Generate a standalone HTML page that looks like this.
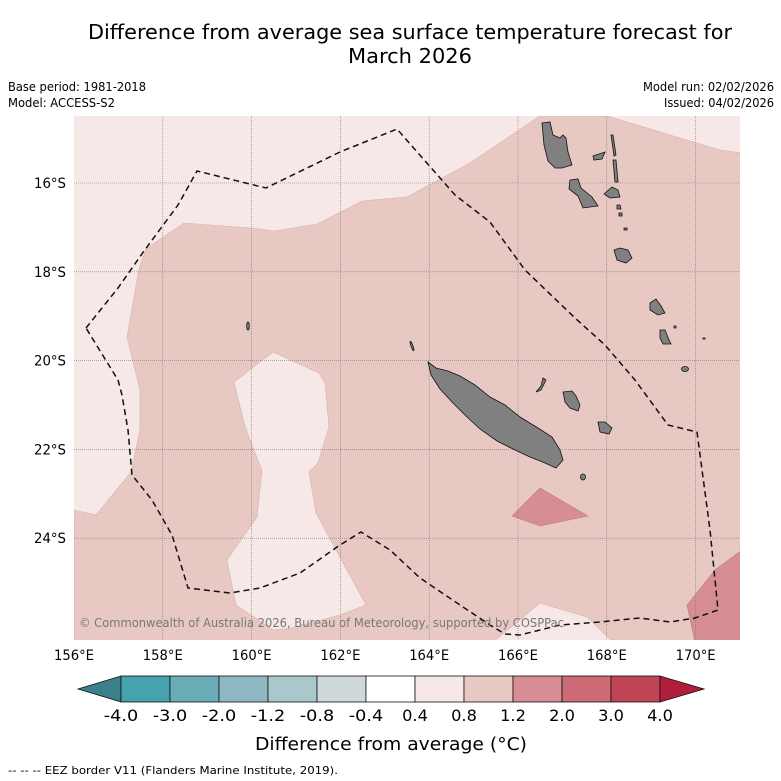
<!DOCTYPE html>
<html><head><meta charset="utf-8"><style>
html,body{margin:0;padding:0;background:#fff;width:781px;height:781px;overflow:hidden}
svg text{font-family:"DejaVu Sans","Liberation Sans",sans-serif}
</style></head><body>
<svg id="fig" width="781" height="781" viewBox="0 0 781 781" xmlns="http://www.w3.org/2000/svg">
<text x="410" y="39" font-size="20" text-anchor="middle" textLength="644" lengthAdjust="spacingAndGlyphs">Difference from average sea surface temperature forecast for</text>
<text x="410" y="63" font-size="20" text-anchor="middle" textLength="124" lengthAdjust="spacingAndGlyphs">March 2026</text>
<text x="8" y="91" font-size="12" textLength="138" lengthAdjust="spacingAndGlyphs">Base period: 1981-2018</text>
<text x="8" y="107" font-size="12" textLength="107" lengthAdjust="spacingAndGlyphs">Model: ACCESS-S2</text>
<text x="774" y="91" font-size="12" text-anchor="end" textLength="131" lengthAdjust="spacingAndGlyphs">Model run: 02/02/2026</text>
<text x="774" y="107" font-size="12" text-anchor="end" textLength="110" lengthAdjust="spacingAndGlyphs">Issued: 04/02/2026</text>
<defs><clipPath id="mapclip"><rect x="74" y="116" width="666" height="524"/></clipPath></defs>
<g id="map" clip-path="url(#mapclip)">
<rect x="74" y="116" width="666" height="524" fill="#f5e8e6"/>
<polygon fill="#e8c8c3" stroke="#dcb0ad" stroke-width="0.6" points="540,116 607,116 720,150 742,153 742,642 74,642 74,510 96,515 131,472 140,430 140,390 127,337 139,269 146,249 184,223 251,228 274,231 317,224 362,201 407,197 470,163"/>
<polygon fill="#f5e8e6" stroke="#dcb0ad" stroke-width="0.6" points="234,382 273,352 319,373 325,383 329,427 318,463 309,472 316,513 366,605 340,615 291,628 273,630 236,605 227,560 257,517 262,470 251,443 244,423"/>
<polygon fill="#f5e8e6" stroke="#dcb0ad" stroke-width="0.6" points="493,642 540,603 587,617 613,642"/>
<polygon fill="#d68d94" stroke="#c77a82" stroke-width="0.6" points="512,516 540,488 588,516 540,526"/>
<polygon fill="#d68d94" stroke="#c77a82" stroke-width="0.6" points="687,605 715,570 742,550 742,642 695,642"/>
<g id="grid"></g>
<g fill="#808080" stroke="#111" stroke-width="0.8">
<polygon points="428,362 436,368 448,371 460,376 475,385 490,397 505,405 520,417 538,428 552,437 560,450 563,460 556,468 545,463 530,457 515,450 497,441 480,429 466,416 452,402 440,389 431,375"/>
<polygon points="542,123 550,122 553,135 560,138 563,135 566,138 568,152 572,165 562,168 555,168 548,161 544,145"/>
<polygon points="570,180 578,179 581,188 592,197 598,206 583,208 578,196 569,189"/>
<polygon points="611,135 613,135 616,155 614,156"/>
<polygon points="593,156 605,152 602,159 594,160"/>
<polygon points="613,160 616,160 618,182 615,182"/>
<polygon points="604,194 612,187 618,190 620,197 610,198"/>
<polygon points="614,250 620,248 628,250 632,258 626,263 617,260"/>
<polygon points="650,303 656,299 661,306 665,313 658,315 650,310"/>
<polygon points="660,330 665,330 669,340 671,344 663,344 660,338"/>
<ellipse cx="685" cy="369" rx="3.5" ry="2.5"/>
<polygon points="563,392 572,391 576,396 580,405 578,411 570,408 565,402"/>
<polygon points="598,422 605,422 612,428 609,434 600,432"/>
<polygon points="543,378 546,380 541,390 536,392 541,386"/>
<ellipse cx="583" cy="477" rx="2.5" ry="3"/>
<ellipse cx="248" cy="326" rx="1.3" ry="4"/>
<ellipse cx="412" cy="346" rx="1" ry="5" transform="rotate(-20 412 346)"/>
<polygon points="617,205 620,205 621,209 617,209"/>
<polygon points="619,213 622,213 622,216 619,216"/>
<polygon points="624,228 627,228 627,230 624,230"/>
<polygon points="674,326 676,326 676,328 674,328"/>
<polygon points="703,338 705,338 705,339 703,339"/>
</g>
<path id="eez" fill="none" stroke="#111" stroke-width="1.5" stroke-dasharray="6,4" d="M86,328 L118,288 L144,251 L178,205 L197,171 L266,188 L340,152 L397,129 L455,195 L490,222 L525,270 L575,318 L605,345 L635,380 L668,425 L697,432 L710,530 L718,610 L695,618 L670,622 L640,618 L600,622 L560,625 L520,635 L505,634 L490,625 L460,605 L420,578 L390,550 L361,532 L340,545 L300,573 L260,588 L230,593 L188,588 L172,535 L152,500 L132,475 L128,430 L122,395 L118,380 Z"/>
<text x="79" y="627" font-size="12" fill="#777" textLength="485" lengthAdjust="spacingAndGlyphs">© Commonwealth of Australia 2026, Bureau of Meteorology, supported by COSPPac</text>
</g>
<g id="axes"></g>
<g id="cbar"></g>
<text x="391" y="750" font-size="18" text-anchor="middle" textLength="272" lengthAdjust="spacingAndGlyphs">Difference from average (°C)</text>
<text x="8" y="774" font-size="11" textLength="330" lengthAdjust="spacingAndGlyphs">--  --  -- EEZ border V11 (Flanders Marine Institute, 2019).</text>
</svg>
<script>
const lonTicks = [156,158,160,162,164,166,168,170];
const latTicks = [16,18,20,22,24];
const cbarLevels = ["-4.0","-3.0","-2.0","-1.2","-0.8","-0.4","0.4","0.8","1.2","2.0","3.0","4.0"];
const cbarColors = ["#47a2b0","#6aacb8","#8db8c2","#a9c8cc","#cfd9dc","#ffffff","#f5e8e6","#e8c8c3","#d68d94","#cc6b75","#bf4455"];
const cbarUnder = "#3a808a";
const cbarOver = "#b01e3c";
const NS="http://www.w3.org/2000/svg";
const lonToX = lon => 74 + (lon-156)*44.4;
const latToY = lat => 183 + (lat-16)*44.4;
function mk(tag, attrs){const e=document.createElementNS(NS,tag);for(const k in attrs)e.setAttribute(k,attrs[k]);return e;}
const grid=document.getElementById('grid'), axes=document.getElementById('axes');
lonTicks.forEach(l=>{
  const x=lonToX(l);
  if(l>156){const g=mk('line',{x1:x,y1:116,x2:x,y2:640,stroke:'#777','stroke-width':0.6,'stroke-dasharray':'1,1'});
  
  
  grid.appendChild(g);}
  const t=mk('text',{x:x,y:660,'font-size':14,'text-anchor':'middle',textLength:40,lengthAdjust:'spacingAndGlyphs'});
  t.textContent=l+'°E';
  
  
  axes.appendChild(t);
});
latTicks.forEach(l=>{
  const y=latToY(l);
  const g=mk('line',{x1:74,y1:y,x2:740,y2:y,stroke:'#777','stroke-width':0.6,'stroke-dasharray':'1,1'});
  
  
  grid.appendChild(g);
  const t=mk('text',{x:66,y:y+5,'font-size':14,'text-anchor':'end',textLength:32,lengthAdjust:'spacingAndGlyphs'});
  t.textContent=l+'°S';
  
  
  axes.appendChild(t);
});
const cb=document.getElementById('cbar');
const x0=121, w=49, y0=676, h=26;
const ut=mk('polygon',{points:`${x0},${y0} ${x0},${y0+h} 78,${y0+h/2}`,fill:cbarUnder,stroke:'#111','stroke-width':0.8});


cb.appendChild(ut);
cbarColors.forEach((c,i)=>{
  const r=mk('rect',{x:x0+i*w,y:y0,width:w,height:h,fill:c,stroke:'#111','stroke-width':0.8});
  
  
  cb.appendChild(r);
});
const xe=x0+cbarColors.length*w;
const ot=mk('polygon',{points:`${xe},${y0} ${xe},${y0+h} ${xe+44},${y0+h/2}`,fill:cbarOver,stroke:'#111','stroke-width':0.8});


cb.appendChild(ot);
cbarLevels.forEach((s,i)=>{
  const t=mk('text',{x:x0+i*w,y:721,'font-size':16,'text-anchor':'middle',textLength:s.length*8.6,lengthAdjust:'spacingAndGlyphs'});
  t.textContent=s;
  
  
  cb.appendChild(t);
});
</script>
</body></html>
